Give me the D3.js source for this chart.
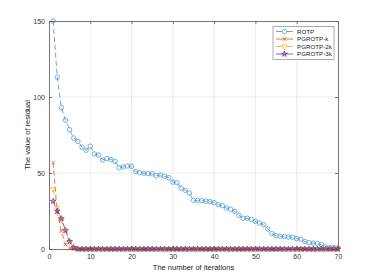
<!DOCTYPE html>
<html>
<head>
<meta charset="utf-8">
<script src="https://cdn.jsdelivr.net/npm/d3@7"></script>
<style>
  body { margin: 0; background: #fff; }
  text { font-family: "Liberation Sans", Arial, sans-serif; }
</style>
</head>
<body>
<svg id="chart" width="374" height="280"></svg>
<script>
// iterations 1..70
let iterations = d3.range(1, 71);
let rotp = [150, 113, 93, 84.7, 78.5, 73, 70.8, 67, 65, 67.6,
  62.5, 61.8, 58.6, 59.5, 58.8, 57.7, 53.5, 54, 54.6, 54.4,
  50.9, 50.2, 49.8, 49.6, 49.4, 48.3, 48.7, 47.8, 47, 44,
  43.6, 40.1, 38.6, 36.8, 32, 32, 31.8, 31.4, 31.2, 30.5,
  29.2, 28.5, 27, 26.1, 24.8, 22.2, 20.2, 20.2, 19.5, 18.2,
  17.1, 16, 13.2, 10.1, 8.8, 8.4, 8.2, 7.9, 7.7, 6.8,
  6.4, 4.9, 4.2, 3.9, 3.6, 2.9, 1.3, 0.9, 0.9, 0.7];
let pgrotpK = [56.8, 24.3, 11.8, 3, 0.5].concat(Array(65).fill(0));
let pgrotp2K = [39.3, 27.2, 19.3, 12, 4.5, 0.5].concat(Array(64).fill(0));
let pgrotp3K = [31.4, 25, 20, 12.3, 5, 1].concat(Array(64).fill(0));
let seriesNames = ["ROTP", "PGROTP-k", "PGROTP-2k", "PGROTP-3k"];
let seriesValues = [rotp, pgrotpK, pgrotp2K, pgrotp3K];
let xTicks = [0, 10, 20, 30, 40, 50, 60, 70];
let yTicks = [0, 50, 100, 150];

let colors = ["#3d92d4", "#d95319", "#edb120", "#7e2f8e"];
let symbols = [d3.symbolCircle, d3.symbolTimes, d3.symbolTriangle, d3.symbolStar];
let sizes = [16, 12, 12, 10];

let svg = d3.select("#chart");
let margin = {left: 49, top: 21, right: 36, bottom: 31};
let width = +svg.attr("width") - margin.left - margin.right;
let height = +svg.attr("height") - margin.top - margin.bottom;

let x = d3.scaleLinear().domain([0, 70]).range([0, width]);
let y = d3.scaleLinear().domain([0, 150]).range([height, 0]);
let g = svg.append("g").attr("transform", `translate(${margin.left}, ${margin.top})`);

// grid
g.append("g").selectAll("line").data(xTicks.slice(1, -1)).enter().append("line")
  .attr("x1", d => x(d)).attr("x2", d => x(d)).attr("y1", 0).attr("y2", height)
  .attr("stroke", "#e6e6e6").attr("stroke-width", 0.8);
g.append("g").selectAll("line").data(yTicks.slice(1, -1)).enter().append("line")
  .attr("y1", d => y(d)).attr("y2", d => y(d)).attr("x1", 0).attr("x2", width)
  .attr("stroke", "#e6e6e6").attr("stroke-width", 0.8);

// series
seriesValues.forEach((vals, k) => {
  let pts = iterations.map((it, i) => ({it: it, v: vals[i]}));
  let line = d3.line().x(d => x(d.it)).y(d => y(d.v));
  g.append("path").datum(pts)
    .attr("fill", "none").attr("stroke", colors[k]).attr("stroke-width", 0.8)
    .attr("stroke-dasharray", "5,3").attr("d", line);
  g.append("g").selectAll("path").data(pts).enter().append("path")
    .attr("transform", d => `translate(${x(d.it)}, ${y(d.v)})` + (k === 2 ? " rotate(180)" : ""))
    .attr("d", d3.symbol().type(symbols[k]).size(sizes[k]))
    .attr("fill", k === 3 ? colors[k] : "none")
    .attr("fill-opacity", k === 3 ? 0.3 : 1)
    .attr("stroke", colors[k]).attr("stroke-width", 0.7);
});

// axes
let axisColor = "#555";
let xAxis = g.append("g").attr("transform", `translate(0, ${height})`)
  .call(d3.axisBottom(x).tickValues(xTicks).tickSizeInner(-3).tickSizeOuter(0).tickPadding(5));
let yAxis = g.append("g")
  .call(d3.axisLeft(y).tickValues(yTicks).tickSizeInner(-3).tickSizeOuter(0).tickPadding(4));
let xTop = g.append("g")
  .call(d3.axisTop(x).tickValues(xTicks).tickSizeInner(-3).tickSizeOuter(0).tickFormat(""));
let yRight = g.append("g").attr("transform", `translate(${width}, 0)`)
  .call(d3.axisRight(y).tickValues(yTicks).tickSizeInner(-3).tickSizeOuter(0).tickFormat(""));
[xAxis, yAxis, xTop, yRight].forEach(a => {
  a.selectAll("path, line").attr("stroke", axisColor).attr("stroke-width", 0.8);
  a.selectAll("text").attr("fill", "#333").style("font-size", "7px");
});

g.append("text")
  .attr("transform", `translate(${width / 2}, ${height + 21})`)
  .attr("text-anchor", "middle").style("font-size", "7.5px").attr("fill", "#222")
  .text("The number of iterations");
g.append("text")
  .attr("transform", `translate(${-19}, ${height / 2}) rotate(270)`)
  .attr("text-anchor", "middle").style("font-size", "7.5px").attr("fill", "#222")
  .text("The value of residual");

// legend
let legend = g.append("g").attr("transform", `translate(${width - 65}, 5.5)`);
legend.append("rect").attr("width", 61).attr("height", 33)
  .attr("fill", "#fff").attr("stroke", "#888").attr("stroke-width", 0.7);
seriesNames.forEach((name, k) => {
  let row = legend.append("g").attr("transform", `translate(0, ${5 + k * 7.5})`);
  row.append("line").attr("x1", 3).attr("x2", 20).attr("stroke", colors[k]).attr("stroke-width", 0.8);
  row.append("path").attr("transform", "translate(11.5, 0)" + (k === 2 ? " rotate(180)" : ""))
    .attr("d", d3.symbol().type(symbols[k]).size(sizes[k]))
    .attr("fill", k === 3 ? colors[k] : "#fff").attr("fill-opacity", k === 3 ? 0.3 : 1)
    .attr("stroke", colors[k]).attr("stroke-width", 0.7);
  row.append("text").attr("x", 24).attr("y", 2.2).style("font-size", "6.2px").attr("fill", "#222")
    .text(name);
});
</script>
</body>
</html>
